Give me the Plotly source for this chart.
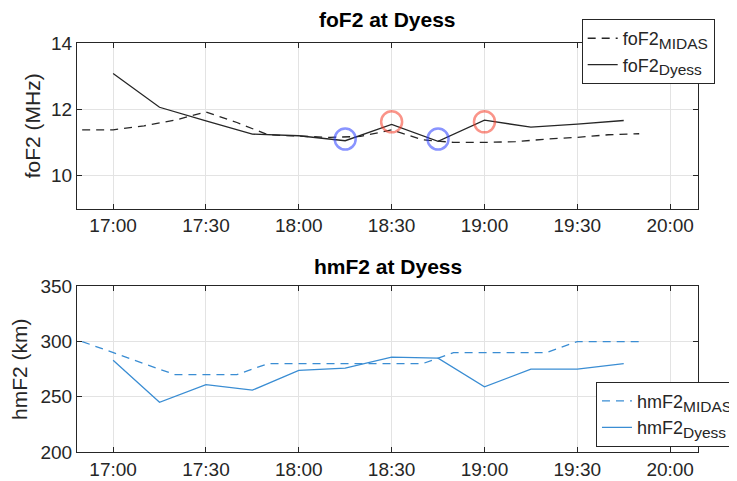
import plotly.graph_objects as go
from plotly.subplots import make_subplots

DAY = "2020-01-01 "

# MIDAS series (10-min cadence)
midas_times = ["16:50", "17:00", "17:10", "17:20", "17:30", "17:40", "17:50", "18:00",
               "18:10", "18:20", "18:30", "18:40", "18:50", "19:00", "19:10", "19:20",
               "19:30", "19:40", "19:50"]
fof2_midas = [11.38, 11.38, 11.5, 11.67, 11.92, 11.6, 11.23, 11.2,
              11.15, 11.18, 11.38, 11.08, 11.0, 11.0, 11.02, 11.1,
              11.15, 11.23, 11.26]
hmf2_midas = [300, 290, 280, 270, 270, 270, 280, 280,
              280, 280, 280, 280, 290, 290, 290, 290,
              300, 300, 300]

# Dyess series (15-min cadence)
dyess_times = ["17:00", "17:15", "17:30", "17:45", "18:00", "18:15", "18:30", "18:45",
               "19:00", "19:15", "19:30", "19:45"]
fof2_dyess = [13.08, 12.06, 11.65, 11.25, 11.2, 11.05, 11.54, 11.03,
              11.67, 11.46, 11.55, 11.66]
hmf2_dyess = [283, 245, 261, 256, 274, 276, 286, 285, 259, 275, 275, 280]

# Highlight circles on foF2 panel
blue_times = ["18:15", "18:45"]
blue_vals = [11.1, 11.1]
red_times = ["18:30", "19:00"]
red_vals = [11.62, 11.62]

x_ticks = ["17:00", "17:30", "18:00", "18:30", "19:00", "19:30", "20:00"]
fof2_ticks = [10, 12, 14]
hmf2_ticks = [200, 250, 300, 350]

def T(lst):
    return [DAY + t for t in lst]

FONT = "Liberation Sans, Arial, Helvetica, sans-serif"
BLK = "#262626"
BLUE = "#3a8dd3"
SUB = '<sub><span style="font-size:15.5px">{}</span></sub>'

fig = make_subplots(rows=2, cols=1, vertical_spacing=0.19)

fig.add_trace(go.Scatter(x=T(midas_times), y=fof2_midas, mode="lines",
                         line=dict(color=BLK, width=1.3, dash="8px,6px"),
                         name="foF2" + SUB.format("MIDAS"), legend="legend"), row=1, col=1)
fig.add_trace(go.Scatter(x=T(dyess_times), y=fof2_dyess, mode="lines",
                         line=dict(color=BLK, width=1.3),
                         name="foF2" + SUB.format("Dyess"), legend="legend"), row=1, col=1)
fig.add_trace(go.Scatter(x=T(blue_times), y=blue_vals, mode="markers",
                         marker=dict(symbol="circle-open", size=21,
                                     color="rgba(40,60,255,0.55)",
                                     line=dict(color="rgba(40,60,255,0.55)", width=2.5)),
                         showlegend=False), row=1, col=1)
fig.add_trace(go.Scatter(x=T(red_times), y=red_vals, mode="markers",
                         marker=dict(symbol="circle-open", size=21,
                                     color="rgba(245,60,40,0.55)",
                                     line=dict(color="rgba(245,60,40,0.55)", width=2.5)),
                         showlegend=False), row=1, col=1)

fig.add_trace(go.Scatter(x=T(midas_times), y=hmf2_midas, mode="lines",
                         line=dict(color=BLUE, width=1.3, dash="8px,6px"),
                         name="hmF2" + SUB.format("MIDAS"), legend="legend2"), row=2, col=1)
fig.add_trace(go.Scatter(x=T(dyess_times), y=hmf2_dyess, mode="lines",
                         line=dict(color=BLUE, width=1.3),
                         name="hmF2" + SUB.format("Dyess"), legend="legend2"), row=2, col=1)

xr = [DAY + "16:48:20", DAY + "20:09:00"]
common_x = dict(range=xr, tickvals=T(x_ticks), ticktext=x_ticks, showgrid=True,
                gridcolor="#e3e3e3", gridwidth=1, ticks="inside", ticklen=5,
                tickcolor=BLK, showline=True, linecolor=BLK, linewidth=1,
                mirror="allticks", zeroline=False, automargin=False,
                tickfont=dict(family=FONT, size=19, color=BLK))
fig.update_xaxes(**common_x, row=1, col=1)
fig.update_xaxes(**common_x, row=2, col=1)

common_y = dict(showgrid=True, gridcolor="#e3e3e3", gridwidth=1, ticks="inside",
                ticklen=5, tickcolor=BLK, showline=True, linecolor=BLK, linewidth=1,
                mirror="allticks", zeroline=False, automargin=False,
                tickfont=dict(family=FONT, size=19, color=BLK))
fig.update_yaxes(**common_y, range=[9, 14], tickvals=fof2_ticks,
                 title=dict(text="foF2 (MHz)", font=dict(family=FONT, size=21, color=BLK),
                            standoff=4), row=1, col=1)
fig.update_yaxes(**common_y, range=[200, 350], tickvals=hmf2_ticks,
                 title=dict(text="hmF2 (km)", font=dict(family=FONT, size=21, color=BLK),
                            standoff=7), row=2, col=1)

# page body has an 8px default margin; the figure runs past the window's right edge
# (as the reference's lower legend does), leaving room so legends do not shrink the plots
fig.update_layout(
    width=760, height=473,
    margin=dict(l=69, r=70, t=34, b=29),
    plot_bgcolor="white", paper_bgcolor="white",
    font=dict(family=FONT, color=BLK),
    showlegend=True,
    legend=dict(xref="paper", yref="paper", x=0.8127, y=1.056,
                xanchor="left", yanchor="top", bgcolor="white",
                bordercolor=BLK, borderwidth=1, tracegroupgap=0,
                font=dict(family=FONT, size=18, color=BLK)),
    legend2=dict(xref="paper", yref="paper", x=0.8357, y=0.1715,
                 xanchor="left", yanchor="top", bgcolor="white",
                 bordercolor=BLK, borderwidth=1, tracegroupgap=0,
                 font=dict(family=FONT, size=18, color=BLK)),
    annotations=[
        dict(text="<b>foF2 at Dyess</b>", xref="paper", yref="paper", x=0.5, y=1,
             yshift=10, xanchor="center", yanchor="bottom", showarrow=False,
             font=dict(family=FONT, size=21, color="black")),
        dict(text="<b>hmF2 at Dyess</b>", xref="paper", yref="paper", x=0.5, y=0.405,
             yshift=6, xanchor="center", yanchor="bottom", showarrow=False,
             font=dict(family=FONT, size=21, color="black")),
    ],
)

fig.write_html("out.html")
